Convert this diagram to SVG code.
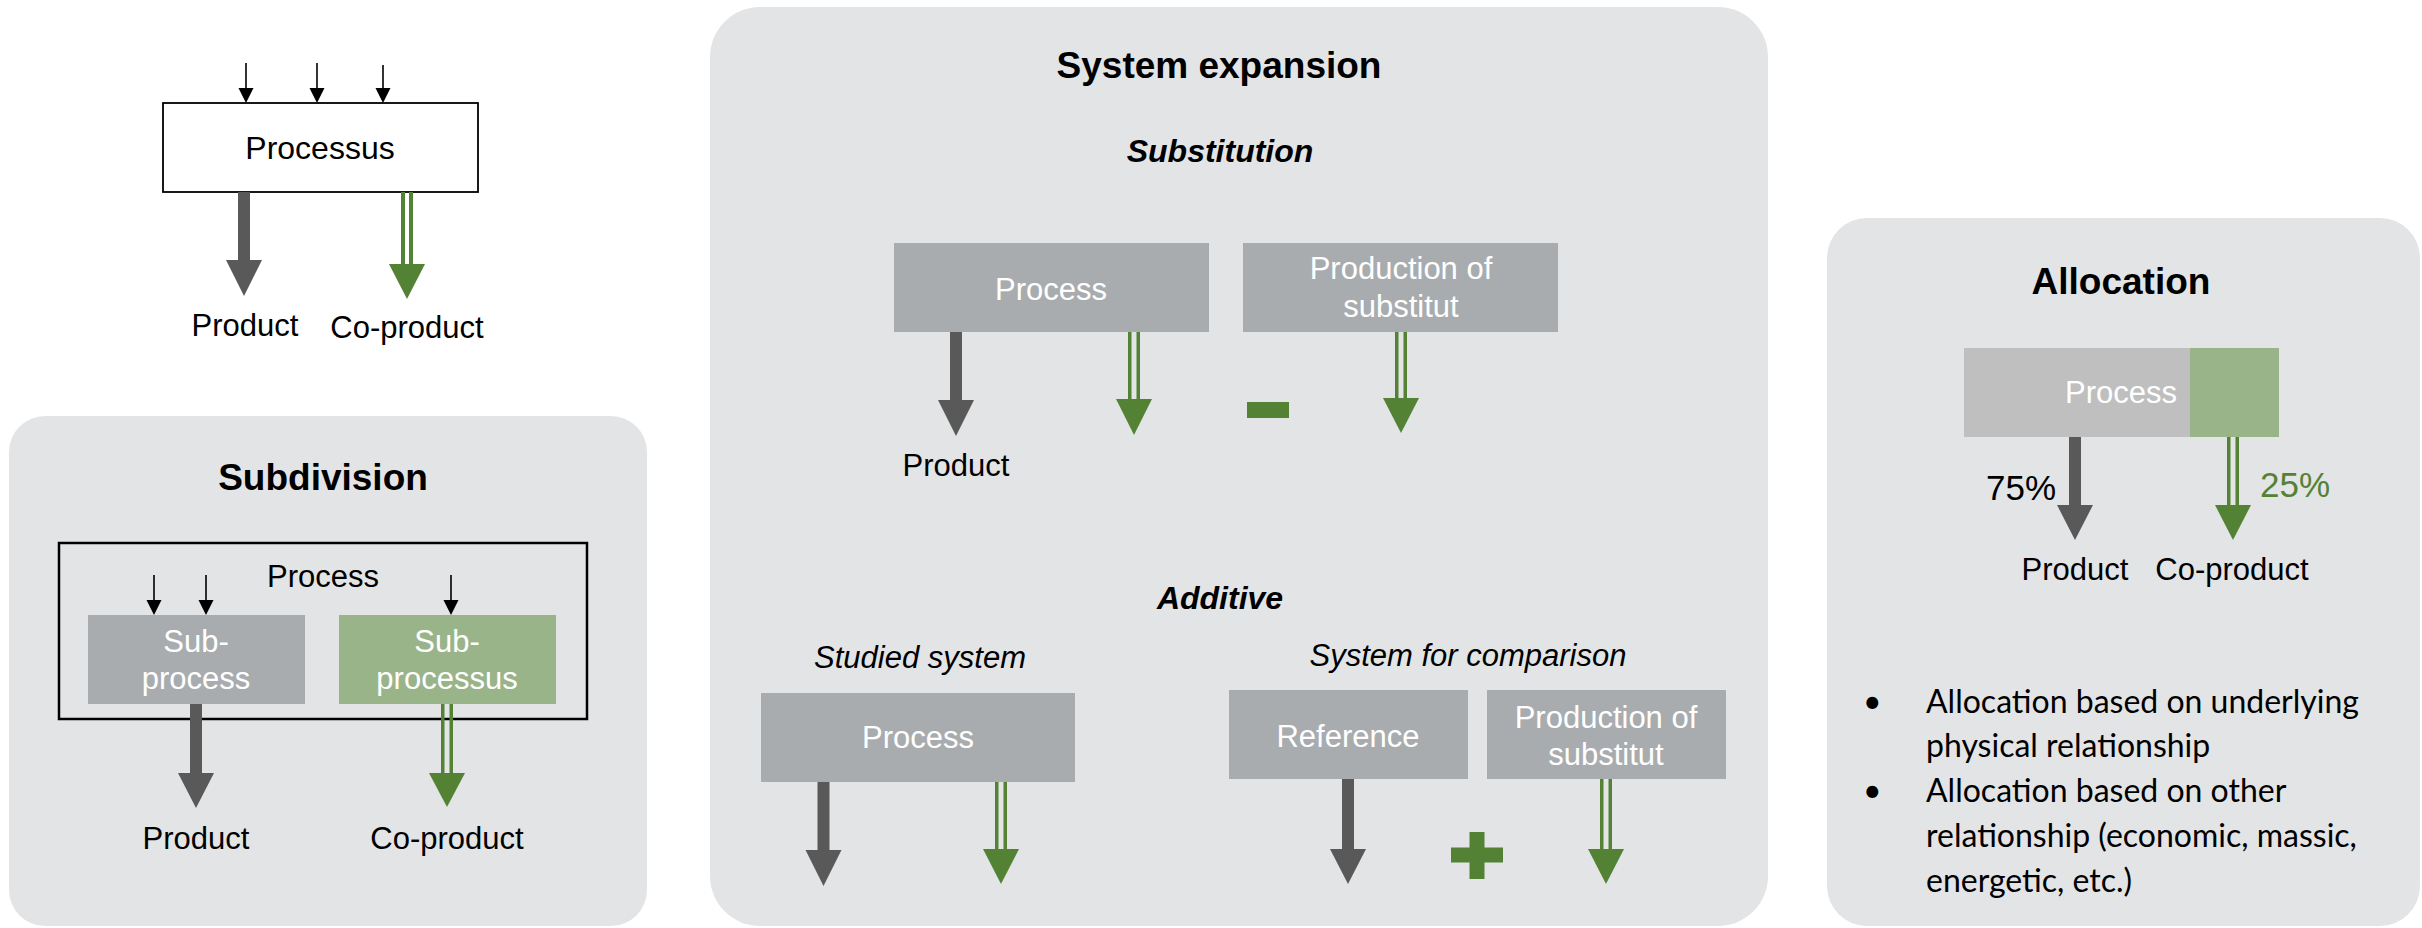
<svg xmlns="http://www.w3.org/2000/svg" width="2422" height="928" viewBox="0 0 2422 928">
<style>
text{font-family:"Liberation Sans",Arial,sans-serif;fill:#000;}
.t{font-size:31px;text-anchor:middle;}
.w{fill:#fff;}
.title{font-size:37px;font-weight:bold;text-anchor:middle;}
.sub{font-size:32px;font-weight:bold;font-style:italic;text-anchor:middle;}
.it{font-size:31px;font-style:italic;text-anchor:middle;}
.panel{fill:#E3E4E6;}
.box{fill:#A9ACAF;}
.gbox{fill:#9AB48A;}
.dark{fill:#595959;}
.green{fill:#548235;}
.thin{stroke:#000;stroke-width:1.6;fill:none;}
.head{fill:#000;}
.bul{font-family:Lato,"Open Sans",sans-serif;font-size:32px;}
</style>

<g id="panel-subdivision"><rect class="panel" x="9" y="416" width="638" height="510" rx="36"/></g>
<g id="panel-system-expansion"><rect class="panel" x="710" y="7" width="1058" height="919" rx="50"/></g>
<g id="panel-allocation"><rect class="panel" x="1827" y="218" width="593" height="708" rx="40"/></g>

<!-- Top-left process -->
<g id="processus">
<rect x="163" y="103" width="315" height="89" fill="#fff" stroke="#000" stroke-width="1.8"/>
<text class="t" x="320" y="159" font-size="32" style="font-size:32px">Processus</text>
</g>
<g id="label-product-1"><text class="t" x="245" y="336">Product</text></g>
<g id="label-coproduct-1"><text class="t" x="407" y="338">Co-product</text></g>

<!-- Subdivision -->
<g id="subdivision-title"><text class="title" x="323" y="490">Subdivision</text></g>
<g id="process-outer">
<rect x="59" y="543" width="528" height="176" fill="none" stroke="#000" stroke-width="2.5"/>
<text class="t" x="323" y="587">Process</text>
</g>
<g id="sub-process">
<rect class="box" x="88" y="615" width="217" height="89"/>
<text class="t w" x="196" y="652">Sub-</text>
<text class="t w" x="196" y="689">process</text>
</g>
<g id="sub-processus">
<rect class="gbox" x="339" y="615" width="217" height="89"/>
<text class="t w" x="447" y="652">Sub-</text>
<text class="t w" x="447" y="689">processus</text>
</g>
<g id="label-product-2"><text class="t" x="196" y="849">Product</text></g>
<g id="label-coproduct-2"><text class="t" x="447" y="849">Co-product</text></g>

<!-- System expansion -->
<g id="sysexp-title"><text class="title" x="1219" y="78">System expansion</text></g>
<g id="substitution-title"><text class="sub" x="1220" y="162">Substitution</text></g>
<g id="subst-process">
<rect class="box" x="894" y="243" width="315" height="89"/>
<text class="t w" x="1051" y="300">Process</text>
</g>
<g id="subst-production">
<rect class="box" x="1243" y="243" width="315" height="89"/>
<text class="t w" x="1401" y="279">Production of</text>
<text class="t w" x="1401" y="317">substitut</text>
</g>
<g id="minus"><rect class="green" x="1247" y="402" width="42" height="16"/></g>
<g id="label-product-3"><text class="t" x="956" y="476">Product</text></g>

<g id="additive-title"><text class="sub" x="1220" y="609">Additive</text></g>
<g id="studied-label"><text class="it" x="920" y="668">Studied system</text></g>
<g id="comparison-label"><text class="it" x="1468" y="666">System for comparison</text></g>
<g id="add-process">
<rect class="box" x="761" y="693" width="314" height="89"/>
<text class="t w" x="918" y="748">Process</text>
</g>
<g id="add-reference">
<rect class="box" x="1229" y="690" width="239" height="89"/>
<text class="t w" x="1348" y="747">Reference</text>
</g>
<g id="add-production">
<rect class="box" x="1487" y="690" width="239" height="89"/>
<text class="t w" x="1606" y="728">Production of</text>
<text class="t w" x="1606" y="765">substitut</text>
</g>
<g id="plus">
<rect class="green" x="1451" y="847.5" width="52" height="15"/>
<rect class="green" x="1469.5" y="832" width="15" height="47"/>
</g>

<!-- Allocation -->
<g id="allocation-title"><text class="title" x="2121" y="294">Allocation</text></g>
<g id="alloc-process">
<rect x="1964" y="348" width="227" height="89" fill="#BFBFBF"/>
<rect class="gbox" x="2190" y="348" width="89" height="89"/>
<text class="t w" x="2121" y="403">Process</text>
</g>
<g id="pct-75"><text x="2021" y="500" font-size="35" text-anchor="middle">75%</text></g>
<g id="pct-25"><text x="2295" y="497" font-size="35" text-anchor="middle" style="fill:#548235">25%</text></g>
<g id="label-product-4"><text class="t" x="2075" y="580">Product</text></g>
<g id="label-coproduct-4"><text class="t" x="2232" y="580">Co-product</text></g>
<g id="bullets">
<text class="bul" x="1863" y="713">•</text>
<text class="bul" x="1926" y="713">Allocation based on underlying</text>
<text class="bul" x="1926" y="757">physical relationship</text>
<text class="bul" x="1863" y="802">•</text>
<text class="bul" x="1926" y="802">Allocation based on other</text>
<text class="bul" x="1926" y="847">relationship (economic, massic,</text>
<text class="bul" x="1926" y="892">energetic, etc.)</text>
</g>

<!-- Connectors -->
<g id="connectors">
<path class="thin" d="M246 63V90M317 63V90M383 65V90"/>
<path class="head" d="M238.5 88H253.5L246 103ZM309.5 88H324.5L317 103ZM375.5 88H390.5L383 103Z"/>
<path class="thin" d="M154 575V602M206 575V602M451 575V602"/>
<path class="head" d="M146.5 600H161.5L154 615ZM198.5 600H213.5L206 615ZM443.5 600H458.5L451 615Z"/>

<path class="dark" d="M238 192H250V260H262L244 296L226 260H238Z"/>
<path class="dark" d="M190 704H202V773H214L196 808L178 773H190Z"/>
<path class="dark" d="M950 332H962V400H974L956 436L938 400H950Z"/>
<path class="dark" d="M817.5 782H829.5V850H841.5L823.5 886L805.5 850H817.5Z"/>
<path class="dark" d="M1342 779H1354V849H1366L1348 884L1330 849H1342Z"/>
<path class="dark" d="M2069 437H2081V505H2093L2075 540L2057 505H2069Z"/>

<g class="green">
<rect x="401" y="192" width="4" height="74"/><rect x="409" y="192" width="4" height="74"/>
<path d="M389 264H425L407 299Z"/>
<rect x="441" y="704" width="3.5" height="71"/><rect x="449.5" y="704" width="3.5" height="71"/>
<path d="M429 773H465L447 807Z"/>
<rect x="1128" y="332" width="3.5" height="69"/><rect x="1136.5" y="332" width="3.5" height="69"/>
<path d="M1116 399H1152L1134 435Z"/>
<rect x="1395" y="332" width="3.5" height="68"/><rect x="1403.5" y="332" width="3.5" height="68"/>
<path d="M1383 398H1419L1401 433Z"/>
<rect x="995" y="782" width="3.5" height="69"/><rect x="1003.5" y="782" width="3.5" height="69"/>
<path d="M983 849H1019L1001 884Z"/>
<rect x="1600" y="779" width="3.5" height="72"/><rect x="1608.5" y="779" width="3.5" height="72"/>
<path d="M1588 849H1624L1606 884Z"/>
<rect x="2227" y="437" width="3.5" height="70"/><rect x="2235.5" y="437" width="3.5" height="70"/>
<path d="M2215 505H2251L2233 540Z"/>
</g>
</g>
</svg>
